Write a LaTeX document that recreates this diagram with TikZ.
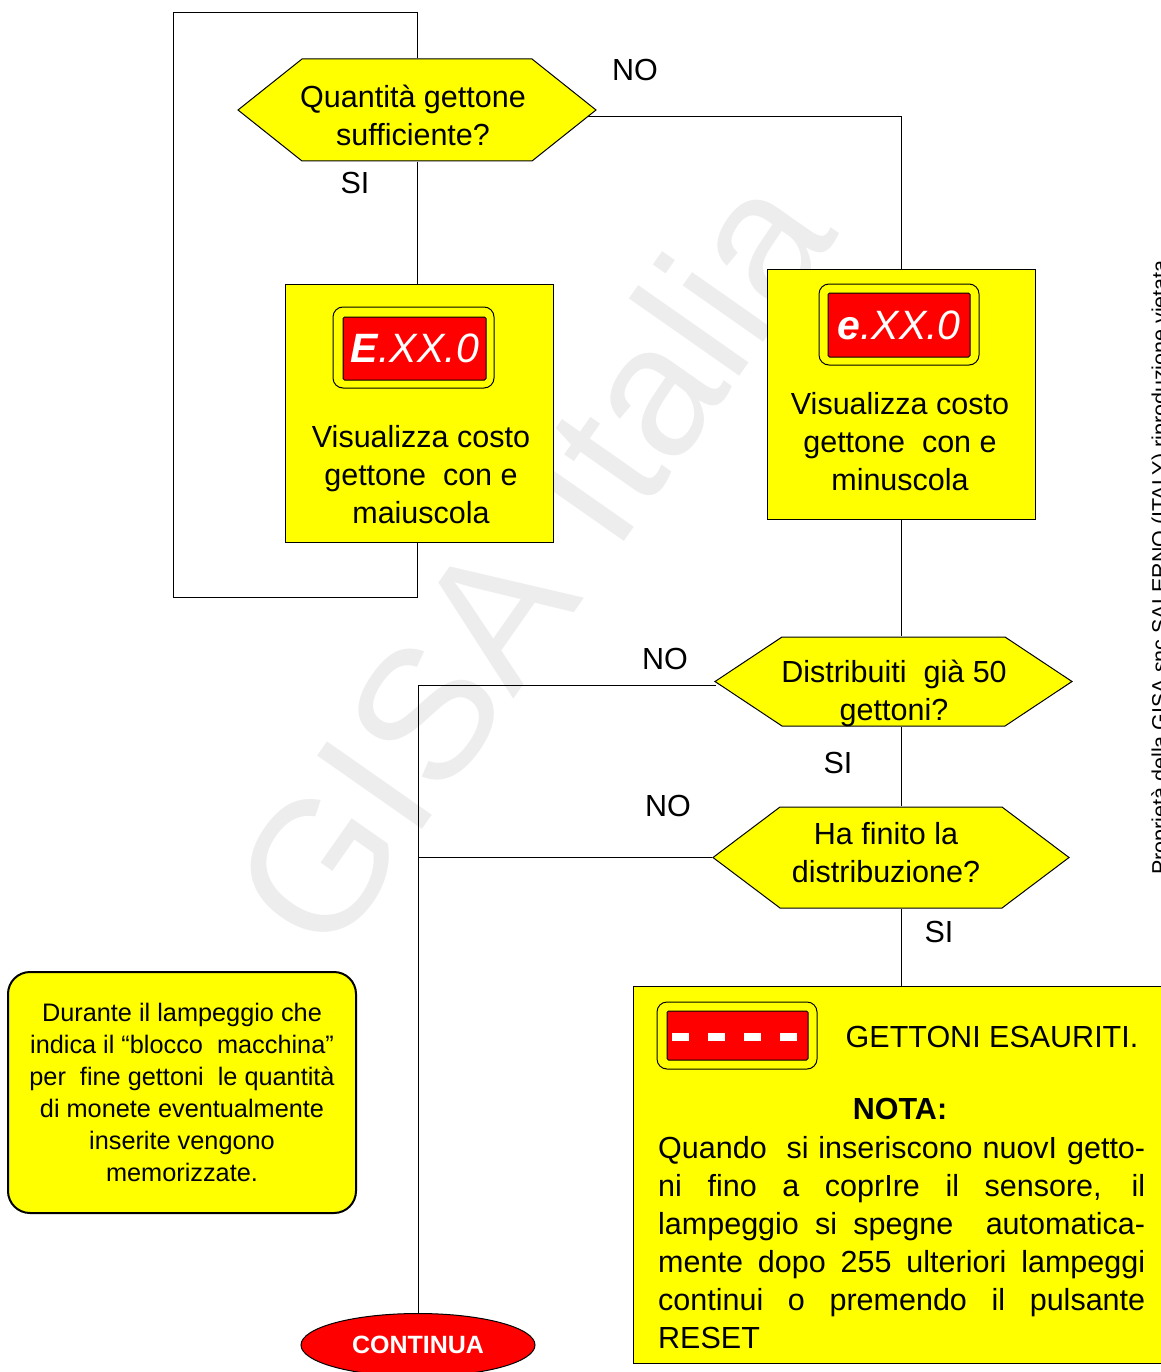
\documentclass[tikz,border=0pt]{standalone}
\usepackage{fontspec}
\setmainfont{Liberation Sans}
\usetikzlibrary{shapes.geometric}

\definecolor{gisayellow}{RGB}{255,255,0}
\definecolor{gisared}{RGB}{255,0,0}
\newcommand{\gisabig}{\fontsize{30.5}{38}\selectfont}
\newcommand{\gisasmall}{\fontsize{25.3}{32}\selectfont}
\newcommand{\gisadisp}{\fontsize{41}{41}\selectfont}

\tikzset{
  flow/.style={line width=1pt},
  lbl/.style={font=\gisabig, inner sep=0pt},
  dtext/.style={font=\gisabig, align=center, inner sep=0pt},
  decision/.style={inner sep=0pt, path picture={
      \draw[fill=gisayellow, line width=1pt]
        ([xshift=1pt]path picture bounding box.west)
        -- ([xshift=#1, yshift=-1pt]path picture bounding box.north west)
        -- ([xshift=-#1, yshift=-1pt]path picture bounding box.north east)
        -- ([xshift=-1pt]path picture bounding box.east)
        -- ([xshift=-#1, yshift=1pt]path picture bounding box.south east)
        -- ([xshift=#1, yshift=1pt]path picture bounding box.south west)
        -- cycle;}},
  proc/.style={draw, fill=gisayellow, line width=1pt, inner sep=0pt},
  dframe/.style={draw, fill=gisayellow, rounded corners=10pt, line width=1pt, inner sep=0pt},
  dred/.style={draw, fill=gisared, rounded corners=1.5pt, line width=1pt, inner sep=0pt,
    text=white, font=\gisadisp},
  memo/.style={draw, fill=gisayellow, rounded corners=22pt, line width=2pt, inner sep=0pt,
    align=center, font=\gisasmall},
  stopnode/.style={ellipse, draw, fill=gisared, line width=1pt, inner sep=0pt,
    text=white, font=\bfseries\fontsize{25}{30}\selectfont}
}

\begin{document}
\begin{tikzpicture}[x=1pt,y=-1pt]
\useasboundingbox (0,0) rectangle (1160,1372);
% watermark and side note
\node[text=black!7, rotate=55, inner sep=0pt, font=\fontsize{186}{186}\selectfont]
  (wm) at (530,560) {GISA Italia};
\node[rotate=90, anchor=base west, inner sep=0pt, font=\fontsize{21.5}{24}\selectfont]
  (prop) at (1167,875) {Proprietà della GISA snc SALERNO (ITALY) riproduzione vietata};

% questions
\node[decision=65pt, minimum width=360pt, minimum height=104pt] (dec1) at (417,110) {};
\node[dtext] (q1) at (413,115) {Quantità gettone\\sufficiente?};
\node[decision=68pt, minimum width=359pt, minimum height=91pt] (dec2) at (893.5,681.5) {};
\node[dtext] (q2) at (894,693) {Distribuiti~ già 50\\gettoni?};
\node[decision=68pt, minimum width=358pt, minimum height=103pt] (dec3) at (891,857.5) {};
\node[dtext] (q3) at (886,853) {Ha finito la\\distribuzione?};

% display boxes
\node[proc, minimum width=268pt, minimum height=258pt] (box1) at (419,413) {};
\node[dframe, minimum width=161pt, minimum height=81pt] (disp1) at (413.5,347.5) {};
\node[dred, minimum width=143pt, minimum height=63pt] (red1) at (414.5,348.5)
  {\textbf{\textit{E}}\textit{.XX.0}};
\node[dtext] (t1) at (421,475) {Visualizza costo\\gettone~ con e\\maiuscola};

\node[proc, minimum width=268pt, minimum height=250pt] (box2) at (901,394) {};
\node[dframe, minimum width=160pt, minimum height=81pt] (disp2) at (899,324.5) {};
\node[dred, minimum width=142pt, minimum height=64pt] (red2) at (899,325)
  {\textbf{\textit{e}}\textit{.XX.0}};
\node[dtext] (t2) at (900,442) {Visualizza costo\\gettone~ con e\\minuscola};

% end of tokens
\node[proc, minimum width=540pt, minimum height=377pt] (note) at (903,1174.5) {};
\node[dframe, minimum width=160pt, minimum height=67pt] (disp3) at (737,1035.5) {};
\node[dred, minimum width=141pt, minimum height=49pt] (red3) at (737.5,1035.5) {};
\foreach \x in {680.5,716.5,752.5,788.5}
  \fill[white] (\x-8.5,1033) rectangle (\x+8.5,1041);
\node[lbl] (gone) at (992,1037) {GETTONI ESAURITI.};
\node[lbl, font=\gisabig\bfseries] (nota) at (900,1109) {NOTA:};
\node[inner sep=0pt, anchor=north west, text width=487pt, align=justify, font=\gisabig]
  (notatxt) at (658,1136) {\tolerance=10000\hbadness=10000
  Quando~ si inseriscono nuovI getto-\linebreak
  ni fino a coprIre il sensore, il\linebreak
  lampeggio si spegne~ automatica-\linebreak
  mente dopo 255 ulteriori lampeggi\linebreak
  continui o premendo il pulsante\linebreak
  RESET};

\node[memo, minimum width=348pt, minimum height=241pt] (memo) at (182,1092.5)
  {Durante il lampeggio che\\indica il “blocco~ macchina”\\per~ fine gettoni~ le quantità\\
   di monete eventualmente\\inserite vengono\\memorizzate.};
\node[stopnode, minimum width=234pt, minimum height=63pt] (stop) at (418,1345) {CONTINUA};

% branch labels
\node[lbl] (no1) at (635,70) {NO};
\node[lbl] (si1) at (355,183) {SI};
\node[lbl] (no2) at (665,659) {NO};
\node[lbl] (si2) at (838,763) {SI};
\node[lbl] (no3) at (668,806) {NO};
\node[lbl] (si3) at (939,932) {SI};

% connectors
\coordinate (ltop) at (173,13);
\coordinate (lbot) at (173,597);
\draw[flow] (dec1.south) -- (box1.north -| dec1.south);
\draw[flow] (box1.south -| dec1.north) -- (lbot -| dec1.north) -- (lbot) -- (ltop)
  -- (ltop -| dec1.north) -- (dec1.north);
\draw[flow] ([xshift=-9pt,yshift=-7pt]dec1.east) -| (box2.north);
\draw[flow] (box2.south) -- (dec2.north -| box2.south);
\draw[flow] (dec2.south -| box2.south) -- (dec3.north -| box2.south);
\draw[flow] (dec3.south -| box2.south) -- (note.north -| box2.south);
\draw[flow] ([xshift=2pt,yshift=-3.5pt]dec2.west) -- ([yshift=-3.5pt]dec2.west -| stop.north)
  -- (stop.north);
\draw[flow] (dec3.west) -- (dec3.west -| stop.north);
\end{tikzpicture}
\end{document}
